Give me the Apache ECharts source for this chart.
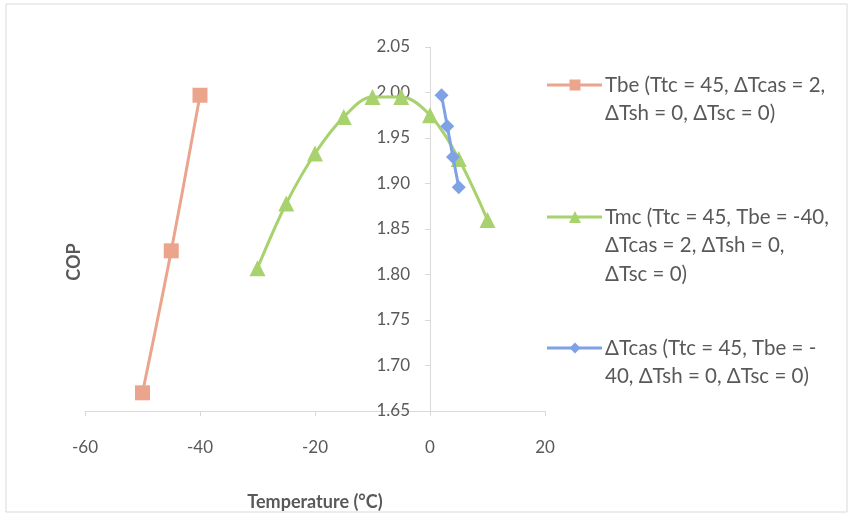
<!DOCTYPE html>
<html>
<head>
<meta charset="utf-8">
<script src="https://cdn.jsdelivr.net/npm/echarts@6/dist/echarts.min.js"></script>
<style>
  html, body { margin: 0; padding: 0; background: #fff; }
  #chart { width: 852px; height: 518px; }
</style>
</head>
<body>
<div id="chart"></div>
<script>
// COP against temperature for three parameter sweeps
const tbeTemps = [-50, -45, -40];
const tbeCop = [1.670, 1.826, 1.997];

const tmcTemps = [-30, -25, -20, -15, -10, -5, 0, 5, 10];
const tmcCop = [1.807, 1.878, 1.933, 1.973, 1.995, 1.995, 1.975, 1.927, 1.860];

const dtcasTemps = [2, 3, 4, 5];
const dtcasCop = [1.997, 1.963, 1.929, 1.896];

const seriesNames = ['Tbe', 'Tmc', 'ΔTcas'];
const legendText = [
  ['Tbe (Ttc = 45, ΔTcas = 2,', 'ΔTsh = 0, ΔTsc = 0)'],
  ['Tmc (Ttc = 45, Tbe = -40,', 'ΔTcas = 2, ΔTsh = 0,', 'ΔTsc = 0)'],
  ['ΔTcas (Ttc = 45, Tbe = -', '40, ΔTsh = 0, ΔTsc = 0)']
];

const xTicks = { min: -60, max: 20, step: 20 };
const yTicks = { min: 1.65, max: 2.05, step: 0.05 };
const yCrossAt = 0; // vertical axis crosses the temperature axis here
const xTitle = 'Temperature (°C)';
const yTitle = 'COP';

const colors = ['#eba58c', '#a8d26e', '#7fa2e6'];
const symbols = ['rect', 'triangle', 'diamond'];
const symbolSizes = [15, 16, 14];
const legendSymbolSizes = [11, 12, 11];
const FONT = 'Lato, "Noto Sans", sans-serif';
const TEXT = '#595959';
const AXIS = '#d9d9d9';

const pairs = (xs, ys) => xs.map((x, i) => [x, ys[i]]);
const dataSets = [pairs(tbeTemps, tbeCop), pairs(tmcTemps, tmcCop), pairs(dtcasTemps, dtcasCop)];

// legend: line sample, marker and wrapped text, marker level with the first line
const legendRows = [85, 217, 348];
const lineH = 28.5;
const markerShape = {
  rect: (cx, cy, s) => ({ type: 'rect', shape: { x: cx - s / 2, y: cy - s / 2, width: s, height: s } }),
  triangle: (cx, cy, s) => ({ type: 'polygon', shape: { points: [[cx, cy - s / 2], [cx + s / 2, cy + s / 2], [cx - s / 2, cy + s / 2]] } }),
  diamond: (cx, cy, s) => ({ type: 'polygon', shape: { points: [[cx, cy - s / 2], [cx + s / 2, cy], [cx, cy + s / 2], [cx - s / 2, cy]] } })
};
const legendGraphics = legendRows.map((y0, i) => {
  const marker = markerShape[symbols[i]](575, y0, legendSymbolSizes[i]);
  marker.style = { fill: colors[i] };
  const children = [
    { type: 'line', shape: { x1: 547, y1: y0, x2: 602, y2: y0 },
      style: { stroke: colors[i], lineWidth: 3 } },
    marker
  ];
  legendText[i].forEach((t, k) => {
    children.push({
      type: 'text', x: 605, y: y0 + k * lineH,
      style: { text: t, fill: TEXT, font: '20.5px ' + FONT, verticalAlign: 'middle' }
    });
  });
  return { type: 'group', children, z: 10 };
});

const chart = echarts.init(document.getElementById('chart'), null, { renderer: 'canvas' });

chart.setOption({
  backgroundColor: '#ffffff',
  animation: false,
  grid: { left: 85, right: 307, top: 47, bottom: 107, containLabel: false },
  xAxis: {
    type: 'value',
    min: xTicks.min, max: xTicks.max, interval: xTicks.step,
    name: xTitle, nameLocation: 'middle', nameGap: 82,
    nameTextStyle: { color: TEXT, fontFamily: FONT, fontSize: 18, fontWeight: 'bold' },
    axisLine: { onZero: false, lineStyle: { color: AXIS, width: 1 } },
    axisTick: { show: true, length: 5, lineStyle: { color: AXIS } },
    axisLabel: { color: TEXT, fontFamily: FONT, fontSize: 17, margin: 28 },
    splitLine: { show: false }
  },
  yAxis: {
    type: 'value',
    min: yTicks.min, max: yTicks.max, interval: yTicks.step,
    axisLine: { show: true, onZero: false, lineStyle: { color: AXIS, width: 1 } },
    axisTick: { show: true, length: 5, lineStyle: { color: AXIS } },
    axisLabel: { color: TEXT, fontFamily: FONT, fontSize: 17, margin: 20,
      formatter: v => v.toFixed(2) },
    splitLine: { show: false }
  },
  series: dataSets.map((d, i) => ({
    name: seriesNames[i],
    type: 'line',
    data: d,
    smooth: 0.35,
    symbol: symbols[i],
    symbolSize: symbolSizes[i],
    showAllSymbol: true,
    lineStyle: { color: colors[i], width: 3 },
    itemStyle: { color: colors[i] },
    z: 2 + i
  })),
  graphic: [
    { type: 'rect', shape: { x: 6, y: 4, width: 841, height: 508 },
      style: { fill: null, stroke: AXIS, lineWidth: 1 }, silent: true, z: -1 },
    { type: 'text', x: 74, y: 262, rotation: Math.PI / 2,
      style: { text: yTitle, fill: TEXT, font: 'bold 18px ' + FONT, align: 'center', verticalAlign: 'middle' } },
    ...legendGraphics
  ]
});

// move the whole vertical axis (line, ticks, labels) to the crossing temperature
const crossPx = chart.convertToPixel({ xAxisIndex: 0 }, yCrossAt);
const leftPx = chart.convertToPixel({ xAxisIndex: 0 }, xTicks.min);
chart.setOption({ yAxis: { offset: -(crossPx - leftPx) } });
</script>
</body>
</html>
